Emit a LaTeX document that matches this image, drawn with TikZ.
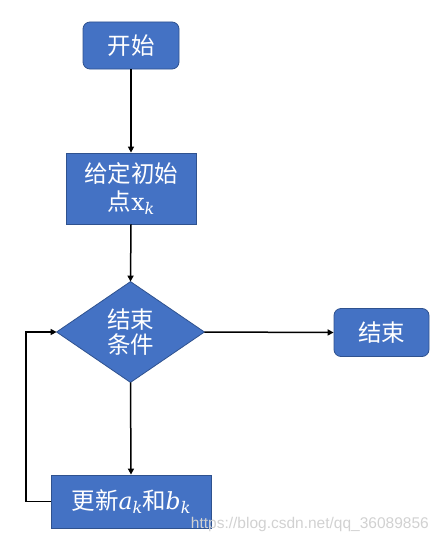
\documentclass[tikz,border=0pt]{standalone}
\usepackage{fontspec}
\newfontfamily\cjk{Noto Sans CJK SC}
\newfontfamily\wm{Liberation Sans}
\newfontfamily\dvs{DejaVu Serif}
\newcommand{\myvar}[2]{{\dvs #1}\raisebox{-4.5pt}{\dvs\itshape\fontsize{16}{18}\selectfont #2}}
\usetikzlibrary{shapes.geometric,arrows.meta}
\definecolor{boxfill}{HTML}{4472C4}
\definecolor{boxline}{HTML}{2F528F}
\begin{document}
\begin{tikzpicture}[x=1pt,y=-1pt,
  base/.style={fill=boxfill,draw=boxline,line width=0.8pt,text=white,font=\cjk\fontsize{23.5}{28}\selectfont,align=center,inner sep=0pt},
  rbox/.style={base,rounded corners=7pt},
  sbox/.style={base},
  conn/.style={line width=1.5pt,-{Triangle[length=6pt,width=6pt]}}]
\useasboundingbox (0,0) rectangle (438,543);
\node[rbox,minimum width=96pt,minimum height=47pt] (start) at (131,45.5) {开始};
\node[sbox,minimum width=130pt,minimum height=71pt] (init) at (131,188.5) {给定初始\\[0pt]点\myvar{x}{k}};
\node[base,draw=none,fill=none,inner sep=0pt,minimum width=147pt,minimum height=100pt] (dbb) at (130.5,332) {};
\path[fill=boxfill,draw=boxline,line width=0.8pt] (dbb.west) -- (dbb.north) -- (dbb.east) -- (dbb.south) -- cycle;
\node[base,fill=none,draw=none] (cond) at (130.5,332) {结束\\[-3pt]条件};
\node[rbox,minimum width=95pt,minimum height=48pt] (end) at (381.5,332.5) {结束};
\node[sbox,minimum width=160pt,minimum height=53pt] (upd) at (131,501.5) {更新{\dvs\itshape a}\raisebox{-4.5pt}{\dvs\itshape\fontsize{16}{18}\selectfont k}和{\dvs\itshape b}\raisebox{-4.5pt}{\dvs\itshape\fontsize{16}{18}\selectfont k}};
\coordinate (lb) at (26,501.5);
\coordinate (lt) at (26,332);
\draw[conn] (start) -- (init);
\draw[conn] (init.south) -- (dbb.north);
\draw[conn] (dbb.east) -- (end.west);
\draw[conn] (dbb.south) -- (upd.north);
\draw[conn] (upd.west) -- (lb) -- (lt) -- (dbb.west);
\node[text=black!18,font=\wm\fontsize{15.5}{18}\selectfont,anchor=east,inner sep=0pt] (wmk) at (429,524) {https://blog.csdn.net/qq\_36089856};
\end{tikzpicture}
\end{document}
